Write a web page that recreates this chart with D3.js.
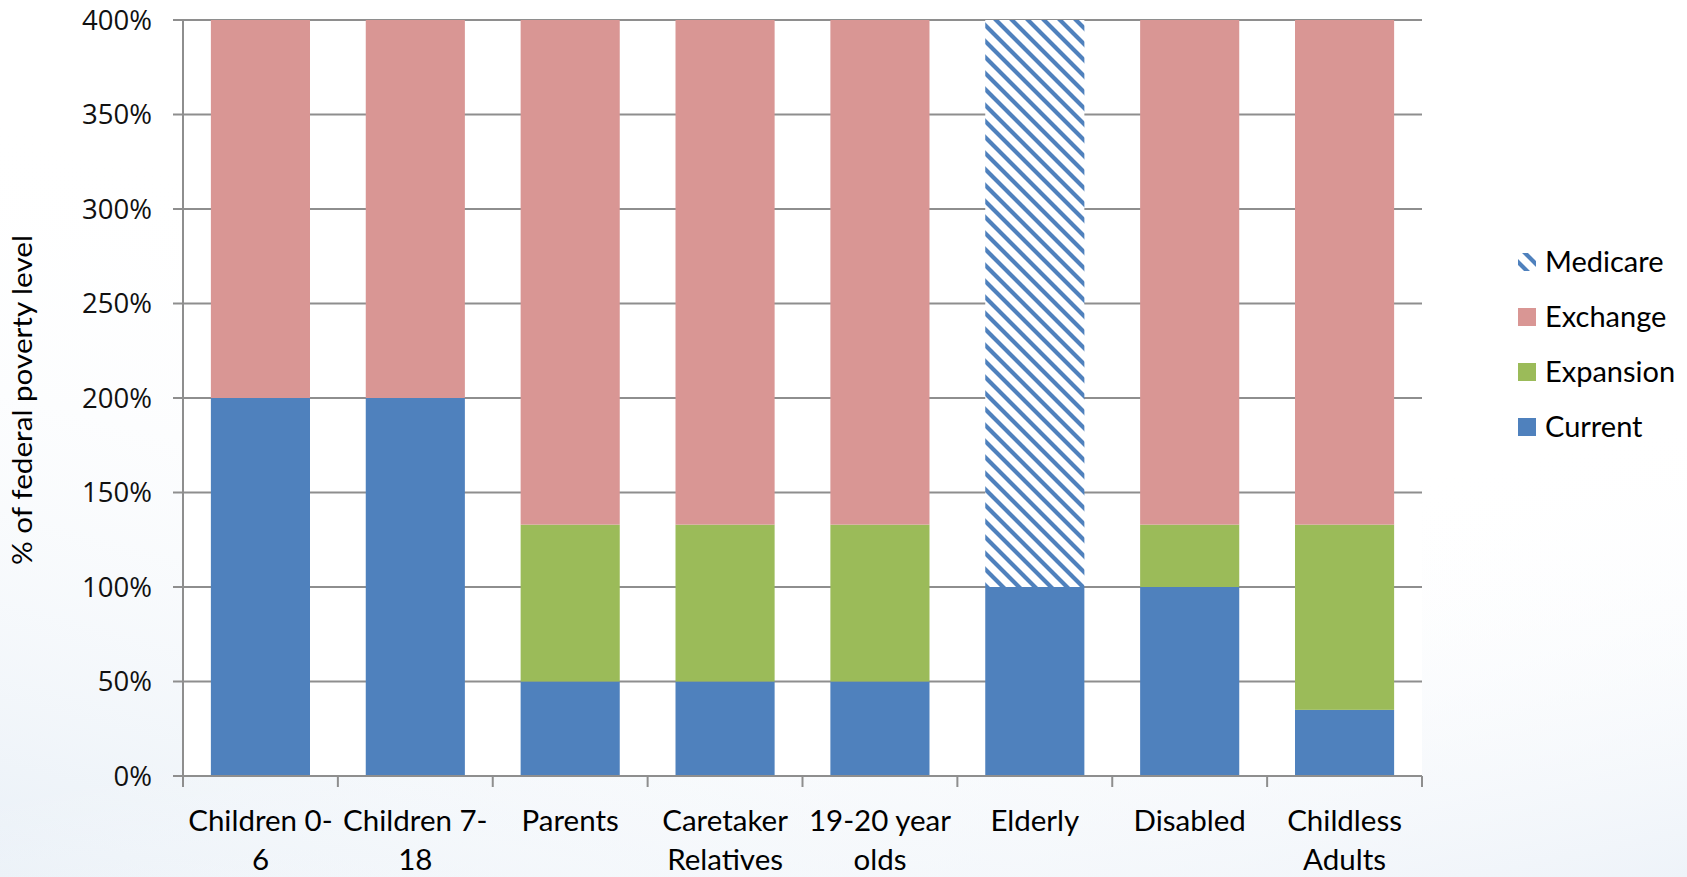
<!DOCTYPE html>
<html>
<head>
<meta charset="utf-8">
<title>Coverage by group, % of federal poverty level</title>
<script src="https://d3js.org/d3.v7.min.js"></script>
<style>
  html, body { margin: 0; padding: 0; background: #fff; }
  svg { display: block; }
  .tick-label { font-family: "Open Sans", sans-serif; font-size: 27.5px; fill: #111; }
  .cat-label { font-family: Lato, sans-serif; font-size: 29.5px; fill: #000; }
  .legend-text { font-family: Lato, sans-serif; font-size: 29px; fill: #000; }
</style>
</head>
<body>
<div id="chart"></div>
<script>
// data (percent of federal poverty level)
var categories = ["Children 0-6", "Children 7-18", "Parents", "Caretaker Relatives",
                  "19-20 year olds", "Elderly", "Disabled", "Childless Adults"];
var labelLines = [["Children 0-", "6"], ["Children 7-", "18"], ["Parents"], ["Caretaker", "Relatives"],
                  ["19-20 year", "olds"], ["Elderly"], ["Disabled"], ["Childless", "Adults"]];
var current   = [200, 200, 50, 50, 50, 100, 100, 35];
var expansion = [0, 0, 83, 83, 83, 0, 33, 98];
var exchange  = [200, 200, 267, 267, 267, 0, 267, 267];
var medicare  = [0, 0, 0, 0, 0, 300, 0, 0];
var yTicks = [0, 50, 100, 150, 200, 250, 300, 350, 400];

var seriesKeys = ["Current", "Expansion", "Exchange", "Medicare"];
var seriesColor = { Current: "#4f81bd", Expansion: "#9bbb59", Exchange: "#d99694", Medicare: "url(#hatch)" };
var legendOrder = ["Medicare", "Exchange", "Expansion", "Current"];

var W = 1687, H = 877;
var plot = { left: 183, right: 1422, top: 20, bottom: 776 };

var svg = d3.select("#chart").append("svg")
  .attr("width", W).attr("height", H);

var defs = svg.append("defs");

// faint bluish wash in the lower corners, like the slide background
var g1 = defs.append("linearGradient").attr("id", "bgLeft")
  .attr("x1", 0).attr("y1", 1).attr("x2", 0.35).attr("y2", 0.3);
g1.append("stop").attr("offset", 0).attr("stop-color", "#e9f0f7");
g1.append("stop").attr("offset", 1).attr("stop-color", "#ffffff").attr("stop-opacity", 0);
var g2 = defs.append("linearGradient").attr("id", "bgRight")
  .attr("x1", 1).attr("y1", 1).attr("x2", 0.8).attr("y2", 0.55);
g2.append("stop").attr("offset", 0).attr("stop-color", "#eef3f9");
g2.append("stop").attr("offset", 1).attr("stop-color", "#ffffff").attr("stop-opacity", 0);

svg.append("rect").attr("width", W).attr("height", H).attr("fill", "#fff");
svg.append("rect").attr("width", W).attr("height", H).attr("fill", "url(#bgLeft)");
svg.append("rect").attr("width", W).attr("height", H).attr("fill", "url(#bgRight)");

// diagonal stripes for Medicare
var hatch = defs.append("pattern").attr("id", "hatch")
  .attr("patternUnits", "userSpaceOnUse")
  .attr("width", 16).attr("height", 16);
hatch.append("rect").attr("width", 16).attr("height", 16).attr("fill", "#fff");
hatch.append("path")
  .attr("d", "M-4,-4 L20,20 M-4,12 L4,20 M12,-4 L20,4")
  .attr("stroke", "#4f81bd").attr("stroke-width", 4.2);

// white plot area
svg.append("rect")
  .attr("x", plot.left).attr("y", plot.top)
  .attr("width", plot.right - plot.left).attr("height", plot.bottom - plot.top)
  .attr("fill", "#fff");

var x = d3.scaleBand()
  .domain(categories)
  .range([plot.left, plot.right])
  .paddingInner(0.36)
  .paddingOuter(0.18);

var y = d3.scaleLinear()
  .domain([0, 400])
  .range([plot.bottom, plot.top]);

// gridlines + left tick marks
svg.append("g").selectAll("line")
  .data(yTicks)
  .enter().append("line")
  .attr("x1", plot.left - 10).attr("x2", plot.right)
  .attr("y1", function(d) { return y(d); })
  .attr("y2", function(d) { return y(d); })
  .attr("stroke", "#8e8e8e").attr("stroke-width", 2);

// stack the series
var rows = categories.map(function(c, i) {
  return { cat: c, Current: current[i], Expansion: expansion[i], Exchange: exchange[i], Medicare: medicare[i] };
});
var stack = d3.stack().keys(seriesKeys)(rows);

svg.append("g").selectAll("g")
  .data(stack)
  .enter().append("g")
  .attr("fill", function(d) { return seriesColor[d.key]; })
  .selectAll("rect")
  .data(function(d) { return d; })
  .enter().append("rect")
  .attr("x", function(d) { return x(d.data.cat); })
  .attr("width", x.bandwidth())
  .attr("y", function(d) { return y(d[1]); })
  .attr("height", function(d) { return y(d[0]) - y(d[1]); });

// y axis line
svg.append("line")
  .attr("x1", plot.left).attr("x2", plot.left)
  .attr("y1", plot.top).attr("y2", plot.bottom + 10)
  .attr("stroke", "#8e8e8e").attr("stroke-width", 2);

// x axis line and category boundary ticks
svg.append("line")
  .attr("x1", plot.left).attr("x2", plot.right)
  .attr("y1", plot.bottom).attr("y2", plot.bottom)
  .attr("stroke", "#8e8e8e").attr("stroke-width", 2);
var bounds = d3.range(categories.length + 1).map(function(i) { return plot.left + i * x.step(); });
svg.append("g").selectAll("line")
  .data(bounds)
  .enter().append("line")
  .attr("x1", function(d) { return d; }).attr("x2", function(d) { return d; })
  .attr("y1", plot.bottom).attr("y2", plot.bottom + 11)
  .attr("stroke", "#8e8e8e").attr("stroke-width", 2);

// y tick labels
svg.append("g").selectAll("text")
  .data(yTicks)
  .enter().append("text")
  .attr("class", "tick-label")
  .attr("x", 152)
  .attr("y", function(d) { return y(d); })
  .attr("dy", "0.35em")
  .attr("text-anchor", "end")
  .text(function(d) { return d + "%"; });

// category labels
var cat = svg.append("g").selectAll("text")
  .data(categories)
  .enter().append("text")
  .attr("class", "cat-label")
  .attr("text-anchor", "middle")
  .attr("x", function(d) { return x(d) + x.bandwidth() / 2; })
  .attr("y", 831);
cat.selectAll("tspan")
  .data(function(d, i) { return labelLines[i]; })
  .enter().append("tspan")
  .attr("x", function() { return d3.select(this.parentNode).attr("x"); })
  .attr("dy", function(d, i) { return i === 0 ? 0 : 39; })
  .text(function(d) { return d; });

// y axis title
svg.append("text")
  .attr("transform", "translate(32,400) rotate(-90)")
  .attr("text-anchor", "middle")
  .attr("font-family", "Lato, sans-serif")
  .attr("font-size", 27)
  .attr("textLength", 330)
  .attr("lengthAdjust", "spacingAndGlyphs")
  .attr("fill", "#000")
  .text("% of federal poverty level");

// legend
var legend = svg.append("g").selectAll("g")
  .data(legendOrder)
  .enter().append("g")
  .attr("transform", function(d, i) { return "translate(1518," + (262 + i * 55) + ")"; });
legend.append("rect")
  .attr("x", 0).attr("y", -9)
  .attr("width", 18).attr("height", 18)
  .attr("fill", function(d) { return seriesColor[d]; });
legend.append("text")
  .attr("class", "legend-text")
  .attr("x", 27).attr("y", 0)
  .attr("dy", "0.36em")
  .text(function(d) { return d; });
</script>
</body>
</html>
